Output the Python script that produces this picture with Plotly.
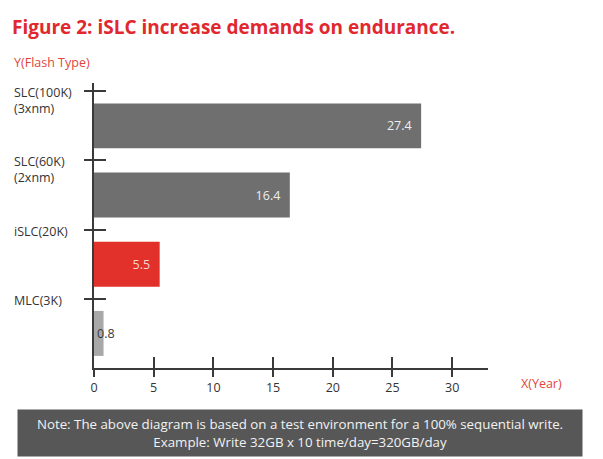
import plotly.graph_objects as go

# ---- data ----
categories = ["SLC(100K)<br>(3xnm)", "SLC(60K)<br>(2xnm)", "iSLC(20K)", "MLC(3K)"]
years = [27.4, 16.4, 5.5, 0.8]
bar_colors = ["#6f6f6f", "#6f6f6f", "#e2302b", "#a8a8a8"]
label_colors = ["#eeeeee", "#eeeeee", "#f6d6d2", "#3a3a3a"]
x_ticks = [0, 5, 10, 15, 20, 25, 30]
title_text = "Figure 2: iSLC increase demands on endurance."
y_title = "Y(Flash Type)"
x_title = "X(Year)"
note_text = ("Note: The above diagram is based on a test environment for a 100% sequential write.<br>"
             "Example: Write 32GB x 10 time/day=320GB/day")

FONT = "Open Sans"
W, H = 603, 459
L, R, T, B = 94, 115, 83, 91
n = len(categories)
band_pos = list(range(n))                 # tick (boundary) positions
bar_pos = [p + 0.5 for p in band_pos]     # bars sit under each label
y_range = [n, -0.12]
x_range = [0, 33]

fig = go.Figure()

# main bars (label inside at end)
fig.add_trace(go.Bar(
    x=years[:3], y=bar_pos[:3], orientation="h",
    marker=dict(color=bar_colors[:3], line=dict(width=0)),
    width=0.65,
    text=[f"{v:.1f}" for v in years[:3]],
    texttemplate="%{text}\u00a0\u00a0",
    textposition="inside", insidetextanchor="end", textangle=0,
    textfont=dict(family=FONT, size=12.5, color=label_colors[:3]),
    hoverinfo="skip", showlegend=False,
))
# small bar (label overflows from start)
fig.add_trace(go.Bar(
    x=years[3:], y=bar_pos[3:], orientation="h",
    marker=dict(color=bar_colors[3:], line=dict(width=0)),
    width=0.65,
    text=[f"{v:.1f}" for v in years[3:]],
    textposition="inside", insidetextanchor="start", constraintext="none",
    textangle=0,
    textfont=dict(family=FONT, size=12.5, color=label_colors[3:]),
    hoverinfo="skip", showlegend=False,
))
# dummy trace for overlay axes (inner halves of the cross ticks)
fig.add_trace(go.Scatter(x=[None], y=[None], xaxis="x2", yaxis="y2",
                         showlegend=False, hoverinfo="skip"))

axis_col = "#3a3a3a"
fig.update_layout(
    width=W, height=H,
    margin=dict(l=L, r=R, t=T, b=B, pad=0),
    paper_bgcolor="white", plot_bgcolor="white",
    barmode="overlay",
    font=dict(family=FONT, size=12, color="#333333"),
    title=dict(text=f"<b>{title_text}</b>", x=12 / W, xanchor="left",
               y=1 - 27 / H, yanchor="middle",
               font=dict(family=FONT, size=19, color="#e0282e")),
    xaxis=dict(range=x_range, tickvals=x_ticks, ticks="outside", ticklen=7,
               tickwidth=1.5, tickcolor=axis_col, showline=True, linecolor=axis_col,
               linewidth=1.5, showgrid=False, zeroline=False,
               tickfont=dict(family=FONT, size=12.5, color="#333333"), fixedrange=True),
    yaxis=dict(range=y_range, tickvals=band_pos, ticks="outside", ticklen=8,
               tickwidth=1.5, tickcolor=axis_col, showline=True, linecolor=axis_col,
               linewidth=1.5, showgrid=False, zeroline=False, showticklabels=False,
               fixedrange=True),
    xaxis2=dict(overlaying="x", anchor="y2", range=x_range, tickvals=x_ticks[1:],
                ticks="inside", ticklen=11, tickwidth=1.5, tickcolor=axis_col,
                showline=False, showgrid=False, zeroline=False, showticklabels=False,
                side="bottom", fixedrange=True),
    yaxis2=dict(overlaying="y", anchor="x2", range=y_range, tickvals=band_pos,
                ticks="inside", ticklen=12, tickwidth=1.5, tickcolor=axis_col,
                showline=False, showgrid=False, zeroline=False, showticklabels=False,
                side="left", fixedrange=True),
)

ann = []
# y category labels, left-aligned, first line at the tick
for cat, p in zip(categories, band_pos):
    ann.append(dict(text=cat, xref="paper", yref="y", x=(12 - L) / (W - L - R), y=p,
                    xanchor="left", yanchor="top", yshift=9, align="left",
                    showarrow=False, font=dict(family=FONT, size=12.5, color="#333333")))
# axis titles
ann.append(dict(text=y_title, xref="paper", yref="paper", x=(12 - L) / (W - L - R),
                y=1 + (T - 62) / (H - T - B), xanchor="left", yanchor="middle",
                showarrow=False, font=dict(family=FONT, size=12.5, color="#e2453c")))
ann.append(dict(text=x_title, xref="paper", yref="paper", x=(519 - L) / (W - L - R),
                y=-(383 - (H - B)) / (H - T - B), xanchor="left", yanchor="middle",
                showarrow=False, font=dict(family=FONT, size=12.5, color="#e2453c")))
# note box
ann.append(dict(text=note_text, xref="paper", yref="paper", x=(300 - L) / (W - L - R),
                y=-(433 - (H - B)) / (H - T - B), xanchor="center", yanchor="middle",
                showarrow=False, align="center", width=558, height=40,
                bgcolor="#575757", borderpad=3,
                font=dict(family=FONT, size=13.3, color="#f2f2f2")))
fig.update_layout(annotations=ann)

fig.write_html("out.html", config={"displayModeBar": False},
               post_script="document.body.style.margin='0';")
